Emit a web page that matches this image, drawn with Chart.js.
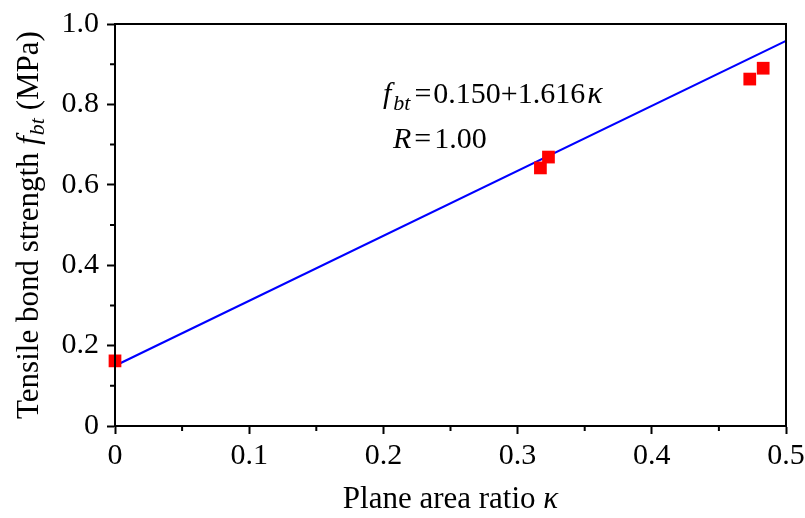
<!DOCTYPE html>
<html>
<head>
<meta charset="utf-8">
<script src="https://cdn.jsdelivr.net/npm/chart.js@4"></script>
<style>
html,body{margin:0;padding:0;background:#fff;}
#wrap{width:805px;height:518px;}
</style>
</head>
<body>
<div id="wrap"><canvas id="c" width="805" height="518"></canvas></div>
<script>
// ---- data ----
const kappa = [0.000, 0.317, 0.323, 0.473, 0.483];
const fbt   = [0.162, 0.642, 0.669, 0.863, 0.890];
const fitX  = [0.0, 0.5];
const fitY  = [0.150, 0.958];
const xTicks = [0, 0.1, 0.2, 0.3, 0.4, 0.5];
const yTicks = [0, 0.2, 0.4, 0.6, 0.8, 1.0];
const eqText = { intercept: '0.150', slope: '1.616', R: '1.00' };

const FONT = '"Liberation Serif", "Times New Roman", serif';

function drawRich(ctx, segs, x, y, align) {
  let w = 0;
  segs.forEach(s => { ctx.font = s.font; w += (s.gap || 0) + ctx.measureText(s.text).width; });
  let cx = align === 'center' ? x - w / 2 : x;
  ctx.textAlign = 'left';
  ctx.textBaseline = 'alphabetic';
  segs.forEach(s => {
    ctx.font = s.font;
    cx += (s.gap || 0);
    ctx.fillText(s.text, cx, y + (s.dy || 0));
    cx += ctx.measureText(s.text).width;
  });
}

const decor = {
  id: 'decor',
  afterDraw(chart) {
    const ctx = chart.ctx, a = chart.chartArea;
    const xs = chart.scales.x, ys = chart.scales.y;
    ctx.save();
    ctx.strokeStyle = '#000';
    ctx.lineWidth = 2;
    ctx.strokeRect(a.left, a.top, a.right - a.left, a.bottom - a.top);
    // minor ticks
    ctx.beginPath();
    for (let i = 0; i < xTicks.length - 1; i++) {
      const px = xs.getPixelForValue((xTicks[i] + xTicks[i + 1]) / 2);
      ctx.moveTo(px, a.bottom); ctx.lineTo(px, a.bottom + 5);
    }
    for (let i = 0; i < yTicks.length - 1; i++) {
      const py = ys.getPixelForValue((yTicks[i] + yTicks[i + 1]) / 2);
      ctx.moveTo(a.left, py); ctx.lineTo(a.left - 5, py);
    }
    ctx.stroke();
    ctx.fillStyle = '#000';
    // x title
    drawRich(ctx, [
      { text: 'Plane area ratio ', font: '31px ' + FONT },
      { text: 'κ', font: 'italic 31px ' + FONT }
    ], (a.left + a.right) / 2, 508, 'center');
    // y title
    ctx.save();
    ctx.translate(38, (a.top + a.bottom) / 2);
    ctx.rotate(-Math.PI / 2);
    drawRich(ctx, [
      { text: 'Tensile bond strength ', font: '31px ' + FONT },
      { text: 'f', font: 'italic 31px ' + FONT },
      { text: 'bt', font: 'italic 22px ' + FONT, dy: 6, gap: 1 },
      { text: ' (MPa)', font: '31px ' + FONT }
    ], 0, 0, 'center');
    ctx.restore();
    // equation
    drawRich(ctx, [
      { text: 'f', font: 'italic 30px ' + FONT },
      { text: 'bt', font: 'italic 22px ' + FONT, dy: 7, gap: 2 },
      { text: '=', font: '30px ' + FONT, gap: 4 },
      { text: eqText.intercept + '+' + eqText.slope, font: '30px ' + FONT, gap: 2 },
      { text: 'κ', font: 'italic 32px ' + FONT, gap: 2 }
    ], 383, 103, 'left');
    drawRich(ctx, [
      { text: 'R', font: 'italic 30px ' + FONT },
      { text: '=', font: '30px ' + FONT, gap: 3 },
      { text: eqText.R, font: '30px ' + FONT, gap: 3 }
    ], 393, 148, 'left');
    ctx.restore();
  }
};

new Chart(document.getElementById('c'), {
  type: 'scatter',
  data: {
    datasets: [
      {
        type: 'line',
        data: fitX.map((x, i) => ({ x, y: fitY[i] })),
        borderColor: '#0000ff',
        borderWidth: 2.2,
        pointRadius: 0,
        fill: false,
        clip: false,
        order: 2
      },
      {
        data: kappa.map((x, i) => ({ x, y: fbt[i] })),
        pointStyle: 'rect',
        pointRadius: 9,
        backgroundColor: '#ff0000',
        borderColor: '#ff0000',
        borderWidth: 0,
        clip: false,
        order: 1
      }
    ]
  },
  options: {
    responsive: false,
    animation: false,
    devicePixelRatio: 1,
    layout: { padding: { top: 24, right: 19, left: 0, bottom: 0 } },
    plugins: { legend: { display: false }, tooltip: { enabled: false } },
    scales: {
      x: {
        type: 'linear', min: 0, max: 0.5,
        afterFit: s => { s.height = 92; s.paddingRight = 0; s.paddingLeft = 0; },
        afterBuildTicks: s => { s.ticks = xTicks.map(v => ({ value: v })); },
        ticks: {
          color: '#000', font: { family: FONT, size: 30 }, padding: 4,
          maxRotation: 0,
          callback: v => (v === 0 ? '0' : v.toFixed(1))
        },
        grid: { drawOnChartArea: false, drawTicks: true, tickLength: 8, tickWidth: 2, tickColor: '#000' },
        border: { display: true, color: '#000', width: 2 }
      },
      y: {
        type: 'linear', min: 0, max: 1.0,
        afterFit: s => { s.width = 115; s.paddingTop = 0; s.paddingBottom = 0; },
        afterBuildTicks: s => { s.ticks = yTicks.map(v => ({ value: v })); },
        ticks: {
          color: '#000', font: { family: FONT, size: 30 }, padding: 8,
          callback: v => (v === 0 ? '0' : v.toFixed(1))
        },
        grid: { drawOnChartArea: false, drawTicks: true, tickLength: 8, tickWidth: 2, tickColor: '#000' },
        border: { display: true, color: '#000', width: 2 }
      }
    }
  },
  plugins: [decor]
});
</script>
</body>
</html>
